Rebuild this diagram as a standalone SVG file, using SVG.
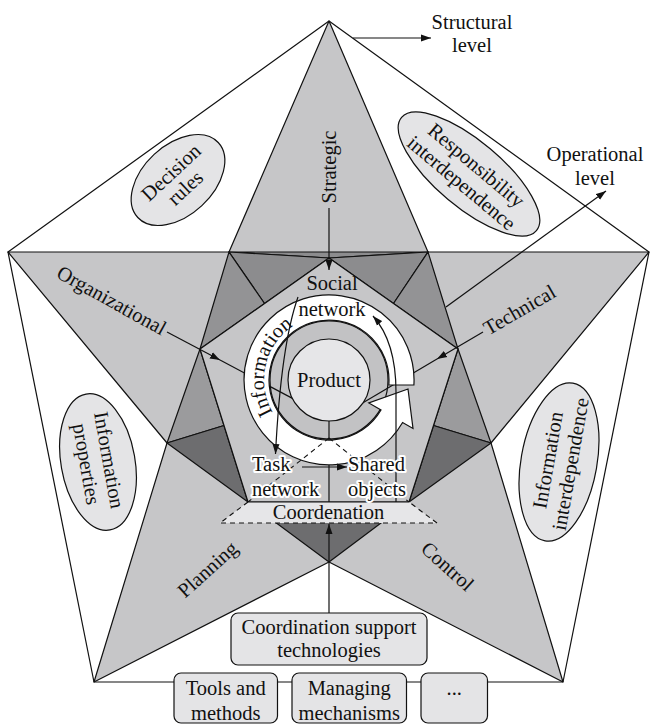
<svg xmlns="http://www.w3.org/2000/svg" width="656" height="725" viewBox="0 0 656 725" font-family="'Liberation Serif', 'Times New Roman', serif">
<defs>
<style>
.ln{stroke:#111;stroke-width:1.2;fill:none}
.f{stroke:#111;stroke-width:1.2;stroke-linejoin:round}
.t{font-family:"Liberation Serif","Times New Roman",serif;font-size:20.5px;fill:#111}
.c{text-anchor:middle}
.halo{paint-order:stroke;stroke:#fff;stroke-width:4;stroke-linejoin:round}
.ell{fill:#e4e4e6;stroke:#111;stroke-width:1.2}
.box{fill:#e4e4e6;stroke:#111;stroke-width:1.2}
.dash{stroke:#111;stroke-width:1.1;stroke-dasharray:5 4;fill:none}
.lt{fill:#c6c6c8}
.d1{fill:#8c8c8e}
.d2{fill:#939395}
.d3{fill:#9b9b9d}
.d4{fill:#6d6d6f}
</style>
<marker id="ah" markerWidth="11" markerHeight="8" refX="10" refY="4" orient="auto" markerUnits="userSpaceOnUse"><path d="M0,0.5 L10,4 L0,7.5 z" fill="#111"/></marker>
<path id="infoArc" d="M272.7,412.5 A65,65 0 0 1 317.7,316"/>
</defs>
<rect width="656" height="725" fill="#fff"/>

<g id="pentagon">
<polygon class="f" fill="#fff" points="329,21 649,252 563,682 94,682 8,252"/>
</g>
<g id="star">
<polygon class="f lt" points="329,21 428,252 649,252 491,443 563,682 329,562 94,682 167,443 8,252 229,252"/>
<g id="facets">
<polygon class="f d1" points="229,252 428,252 329,258"/>
<polygon class="f d1" points="229,252 329,258 264.5,303.5"/>
<polygon class="f d2" points="229,252 264.5,303.5 200,349"/>
<polygon class="f d1" points="428,252 329,258 393.5,303.5"/>
<polygon class="f d2" points="428,252 393.5,303.5 458,349"/>
<polygon class="f d3" points="167,443 200,349 224,425.5"/>
<polygon class="f d4" points="167,443 224,425.5 248,502"/>
<polygon class="f d3" points="491,443 458,349 433.5,425.5"/>
<polygon class="f d4" points="491,443 433.5,425.5 409,502"/>
<polygon class="f d4" points="329,562 248,502 409,502"/>
</g>
<polygon id="inner" class="f lt" points="329,258 458,349 409,502 248,502 200,349"/>
</g>

<g id="core">
<circle cx="329" cy="380" r="59" fill="#c2c2c4" stroke="#111" stroke-width="1.2"/>
<g id="connectors">
<line class="ln" x1="167" y1="332" x2="220" y2="360" marker-end="url(#ah)"/>
<line class="ln" x1="220" y1="360" x2="300" y2="402.4"/>
<line class="ln" x1="483" y1="332" x2="437" y2="359.1" marker-end="url(#ah)"/>
<line class="ln" x1="437" y1="359.1" x2="360" y2="404.5"/>
<line class="ln" x1="329" y1="415" x2="329" y2="502"/>
</g>
<path id="infoband" d="M413.9,385 A85,85 0 1 0 402.6,422.5 L413,428.5 L408,389 L368.8,403 L381,410 A60,60 0 1 1 388.8,385 Z" fill="#fff" stroke="#111" stroke-width="1.2" stroke-linejoin="miter"/>
<g id="product">
<circle cx="329" cy="380" r="41" fill="#e6e6e8" stroke="#111" stroke-width="1.2"/>
<text class="t c" x="329" y="387">Product</text>
</g>
</g>

<g id="connectors2">
<line class="dash" x1="329" y1="438" x2="248" y2="502"/>
<line class="dash" x1="329" y1="438" x2="409" y2="502"/>
<line class="ln" x1="329" y1="208" x2="329" y2="270" marker-end="url(#ah)"/>
<line class="ln" x1="353" y1="38" x2="431" y2="38" marker-end="url(#ah)"/>
<line class="ln" x1="446" y1="307" x2="606" y2="191" marker-end="url(#ah)"/>
<path class="ln" d="M298,297 Q281,345 275.5,454" marker-end="url(#ah)"/>
<path class="ln" d="M396,502 L396,392 C396,360 390,335 373,316" marker-end="url(#ah)"/>
<line class="ln" x1="302" y1="467" x2="347" y2="467" marker-end="url(#ah)"/>
<line class="ln" x1="329" y1="613" x2="329" y2="524" marker-end="url(#ah)"/>
</g>

<g id="coordination">
<polygon points="248,502 409,502 437,523 220,523" fill="#e6e6e8"/>
<line class="ln" x1="248" y1="502" x2="409" y2="502"/>
<polyline class="dash" points="248,502 220,523 437,523 409,502"/>
<text class="t c" x="328.5" y="519">Coordenation</text>
</g>

<g id="labels">
<text class="t c" x="332" y="290">Social</text>
<text class="t c" x="332" y="316">network</text>
<text class="t halo" x="252" y="471">Task</text>
<text class="t halo" x="252" y="496">network</text>
<text class="t halo" x="348" y="471">Shared</text>
<text class="t halo" x="348" y="496">objects</text>
<text class="t"><textPath href="#infoArc">Information</textPath></text>
<text class="t c" transform="translate(329,167) rotate(-90)" y="7">Strategic</text>
<text class="t" text-anchor="end" transform="translate(167,332) rotate(29)" x="-3" y="6">Organizational</text>
<text class="t" transform="translate(483,332) rotate(-30)" x="3" y="6">Technical</text>
<text class="t c" transform="translate(208,570) rotate(-42)" y="6">Planning</text>
<text class="t c" transform="translate(447,567) rotate(42)" y="6">Control</text>
<text class="t c" x="472" y="29">Structural</text>
<text class="t c" x="472" y="52">level</text>
<text class="t c" x="595" y="161">Operational</text>
<text class="t c" x="595" y="185">level</text>
</g>

<g id="decision-rules">
<ellipse class="ell" cx="178" cy="180" rx="55" ry="35" transform="rotate(-43 178 180)"/>
<g transform="translate(178,180) rotate(-43)"><text class="t c" y="-3.5">Decision</text><text class="t c" y="17.5">rules</text></g>
</g>
<g id="responsibility">
<ellipse class="ell" cx="469" cy="174" rx="88" ry="33" transform="rotate(40 469 174)"/>
<g transform="translate(469,174) rotate(40)"><text class="t c" y="-4.5">Responsibility</text><text class="t c" y="18.5">interdependence</text></g>
</g>
<g id="info-properties">
<ellipse class="ell" cx="98" cy="462" rx="69" ry="37" transform="rotate(80 98 462)"/>
<g transform="translate(98,462) rotate(80)"><text class="t c" y="-4.5">Information</text><text class="t c" y="18.5">properties</text></g>
</g>
<g id="info-interdependence">
<ellipse class="ell" cx="559" cy="462" rx="80" ry="38" transform="rotate(-80 559 462)"/>
<g transform="translate(559,462) rotate(-80)"><text class="t c" y="-4.5">Information</text><text class="t c" y="18.5">interdependence</text></g>
</g>

<g id="support">
<rect class="box" x="231" y="613" width="196" height="52" rx="7"/>
<text class="t c" x="329" y="634">Coordination support</text>
<text class="t c" x="329" y="657">technologies</text>
</g>
<g id="tools">
<rect class="box" x="174" y="673" width="103.5" height="50" rx="7"/>
<text class="t c" x="225.7" y="695">Tools and</text>
<text class="t c" x="225.7" y="720">methods</text>
</g>
<g id="managing">
<rect class="box" x="292" y="673" width="114.5" height="50" rx="7"/>
<text class="t c" x="349.2" y="695">Managing</text>
<text class="t c" x="349.2" y="720">mechanisms</text>
</g>
<g id="more">
<rect class="box" x="421" y="673" width="66.5" height="50" rx="7"/>
<text class="t c" x="454.2" y="695">...</text>
</g>
</svg>
